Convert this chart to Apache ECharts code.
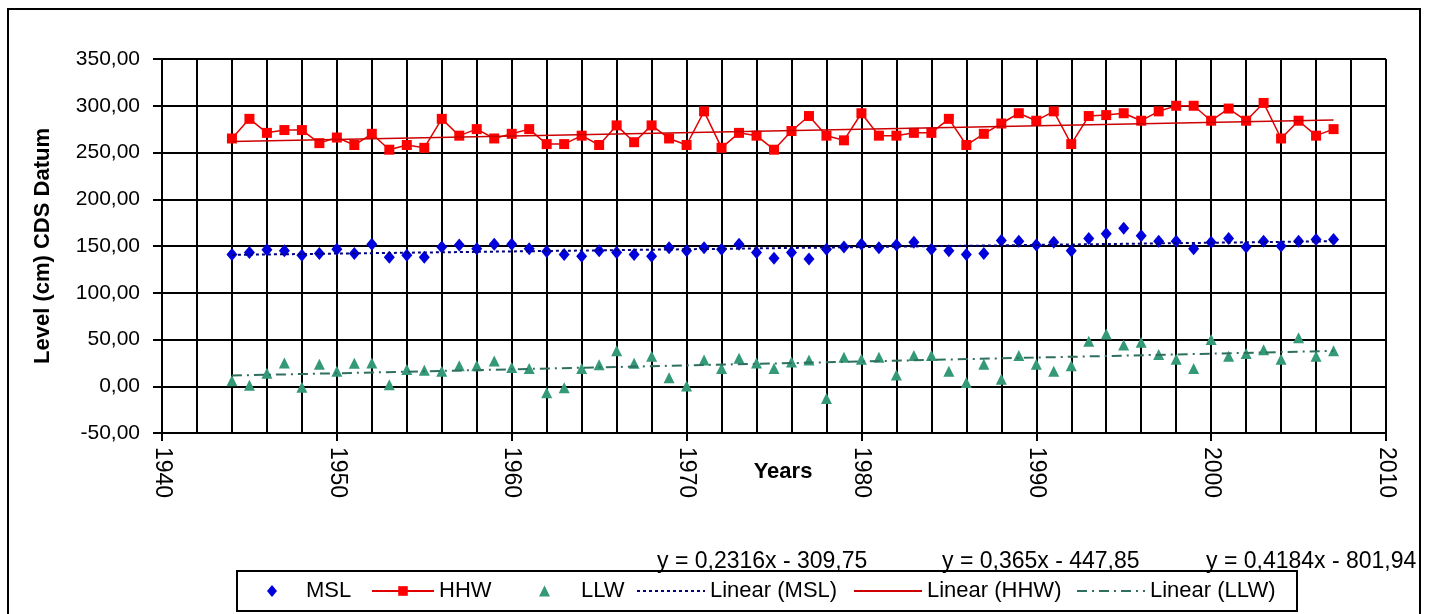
<!DOCTYPE html>
<html>
<head>
<meta charset="utf-8">
<script src="https://cdn.jsdelivr.net/npm/echarts@6/dist/echarts.min.js"></script>
<style>
html,body{margin:0;padding:0;background:#fff;}
#c{width:1433px;height:614px;}
</style>
</head>
<body>
<div id="c"></div>
<script>
// ---- data ----
const years = [1944,1945,1946,1947,1948,1949,1950,1951,1952,1953,1954,1955,1956,1957,1958,1959,
  1960,1961,1962,1963,1964,1965,1966,1967,1968,1969,1970,1971,1972,1973,1974,1975,1976,1977,1978,1979,
  1980,1981,1982,1983,1984,1985,1986,1987,1988,1989,1990,1991,1992,1993,1994,1995,1996,1997,1998,1999,
  2000,2001,2002,2003,2004,2005,2006,2007];
const msl = [141,143,146,145,140,142,146.5,142,152,138,140,138,149,151,147,152,
  152,147,144,141,139,145,143,141,139,148,145,148,146.5,152,143,137,143,136,146.5,149,
  152,148,151,154,146.5,145,141,142,156,155,151,154,145,158,163,169,161,155,155,147,
  154,158,149,155,150,155,157,157];
const hhw = [265,286,271,274,274,260,266,258,270,253,258,255,286,268,275,265,
  270,275,259,259,268,258,279,261,279,265,258,294,255,271,268,253,273,289,268,263,
  292,268,268,271,271,286,258,270,281,292,284,294,259,289,290,292,284,294,300,300,
  284,297,284,303,265,284,268,275];
const llw = [6,1,14,25,-1,23.5,16,24.6,25,1.5,18,17,16,22,22,27,
  20,19,-7,-1.5,19,23,38,24.6,32,9,0.3,28,19,30,25,19,26,28,-13,31,
  29,31,12,33,33,16,4,23.5,7.5,33,23.5,16,22,48,56,44,47,34,29,19,
  50,32,35,39,29,52,32,38];
const trendYears = [1944, 2007];
const mslTrend = [140.5, 155.1];
const hhwTrend = [261.7, 284.7];
const llwTrend = [11.4, 37.8];
const equations = ['y = 0,2316x - 309,75', 'y = 0,365x - 447,85', 'y = 0,4184x - 801,94'];
const seriesNames = ['MSL', 'HHW', 'LLW', 'Linear (MSL)', 'Linear (HHW)', 'Linear (LLW)'];
const xTitle = 'Years';
const yTitle = 'Level (cm) CDS Datum';

// ---- chart ----
const pairs = (xs, ys) => xs.map((x, i) => [x, ys[i]]);
const FONT = 'Liberation Sans, Arial, sans-serif';
const chart = echarts.init(document.getElementById('c'), null, {renderer: 'canvas'});

// legend layout: [left, itemWidth, itemHeight, text left padding, hide symbol]
const legendLayout = [
  [267, 10, 12, 24, false],
  [371, 62, 12, 0, false],
  [539, 11, 11, 26, false],
  [636, 68, 12, 0, true],
  [853, 68, 12, 0, true],
  [1076, 68, 12, 0, true]
];

const option = {
  animation: false,
  backgroundColor: '#fff',
  textStyle: {fontFamily: FONT, color: '#000'},
  grid: {left: 162, right: 47, top: 59, bottom: 181, containLabel: false},
  xAxis: [
    {
      type: 'value', position: 'bottom', min: 1940, max: 2010, interval: 2,
      axisLine: {show: false}, axisTick: {show: false}, axisLabel: {show: false},
      splitLine: {show: true, lineStyle: {color: '#000', width: 2}}
    },
    {
      type: 'value', position: 'bottom', min: 1940, max: 2010, interval: 10,
      axisLine: {show: true, onZero: false, lineStyle: {color: '#000', width: 2}},
      axisTick: {show: true, length: 8, lineStyle: {color: '#000', width: 2}},
      axisLabel: {rotate: -90, margin: 14, fontSize: 23, color: '#000', fontFamily: FONT,
                  formatter: v => String(v)},
      splitLine: {show: false},
      name: xTitle, nameLocation: 'middle', nameGap: 28, nameMoveOverlap: false,
      nameTextStyle: {fontWeight: 'bold', fontSize: 22, color: '#000', fontFamily: FONT,
                      padding: [0, 0, 0, 18]}
    }
  ],
  yAxis: {
    type: 'value', min: -50, max: 350, interval: 50,
    axisLine: {show: true, lineStyle: {color: '#000', width: 2}},
    axisTick: {show: true, length: 9, lineStyle: {color: '#000', width: 2}},
    axisLabel: {formatter: v => v.toFixed(2).replace('.', ','), fontSize: 21, margin: 22,
                color: '#000', fontFamily: FONT},
    splitLine: {show: true, lineStyle: {color: '#000', width: 2}},
    name: yTitle, nameLocation: 'middle', nameGap: 108,
    nameTextStyle: {fontWeight: 'bold', fontSize: 22, color: '#000', fontFamily: FONT}
  },
  legend: seriesNames.map((n, i) => {
    const L = legendLayout[i];
    const lg = {
      data: [n], left: L[0], top: 580, padding: 0, itemGap: 0,
      itemWidth: L[1], itemHeight: L[2], selectedMode: false,
      textStyle: {fontSize: 22, color: '#000', fontFamily: FONT, padding: [0, 0, 0, L[3]]}
    };
    if (L[4]) lg.itemStyle = {opacity: 0};
    return lg;
  }),
  graphic: [
    {type: 'rect', silent: true, z: -10, shape: {x: 8, y: 9, width: 1412, height: 700},
     style: {fill: 'none', stroke: '#000', lineWidth: 2}},
    {type: 'rect', silent: true, z: 0, shape: {x: 237, y: 571, width: 1060, height: 40},
     style: {fill: '#fff', stroke: '#000', lineWidth: 2}},
    {type: 'text', silent: true, left: 657, top: 550,
     style: {text: equations[0], font: '23px ' + FONT, fill: '#000'}},
    {type: 'text', silent: true, left: 942, top: 550,
     style: {text: equations[1], font: '23px ' + FONT, fill: '#000'}},
    {type: 'text', silent: true, left: 1206, top: 550,
     style: {text: equations[2], font: '23px ' + FONT, fill: '#000'}}
  ],
  series: [
    {name: seriesNames[0], type: 'scatter', xAxisIndex: 0, data: pairs(years, msl),
     symbol: 'diamond', symbolSize: [11, 13], itemStyle: {color: '#0000dd', opacity: 1}, z: 3},
    {name: seriesNames[1], type: 'line', xAxisIndex: 0, data: pairs(years, hhw),
     symbol: 'rect', symbolSize: 10, showSymbol: true,
     lineStyle: {color: '#e00000', width: 1.5}, itemStyle: {color: '#ff0000'}, z: 3},
    {name: seriesNames[2], type: 'scatter', xAxisIndex: 0, data: pairs(years, llw),
     symbol: 'triangle', symbolSize: 11, itemStyle: {color: '#339977', opacity: 1}, z: 3},
    {name: seriesNames[3], type: 'line', xAxisIndex: 0, data: pairs(trendYears, mslTrend),
     symbol: 'none', lineStyle: {color: '#000080', width: 2, type: [3, 3]},
     itemStyle: {color: '#000080'}, z: 4},
    {name: seriesNames[4], type: 'line', xAxisIndex: 0, data: pairs(trendYears, hhwTrend),
     symbol: 'none', lineStyle: {color: '#cc0000', width: 1.5, type: 'solid'},
     itemStyle: {color: '#cc0000'}, z: 4},
    {name: seriesNames[5], type: 'line', xAxisIndex: 0, data: pairs(trendYears, llwTrend),
     symbol: 'none', lineStyle: {color: '#2f6f60', width: 2, type: [10, 5, 2, 5]},
     itemStyle: {color: '#2f6f60'}, z: 4}
  ]
};
chart.setOption(option);
</script>
</body>
</html>
